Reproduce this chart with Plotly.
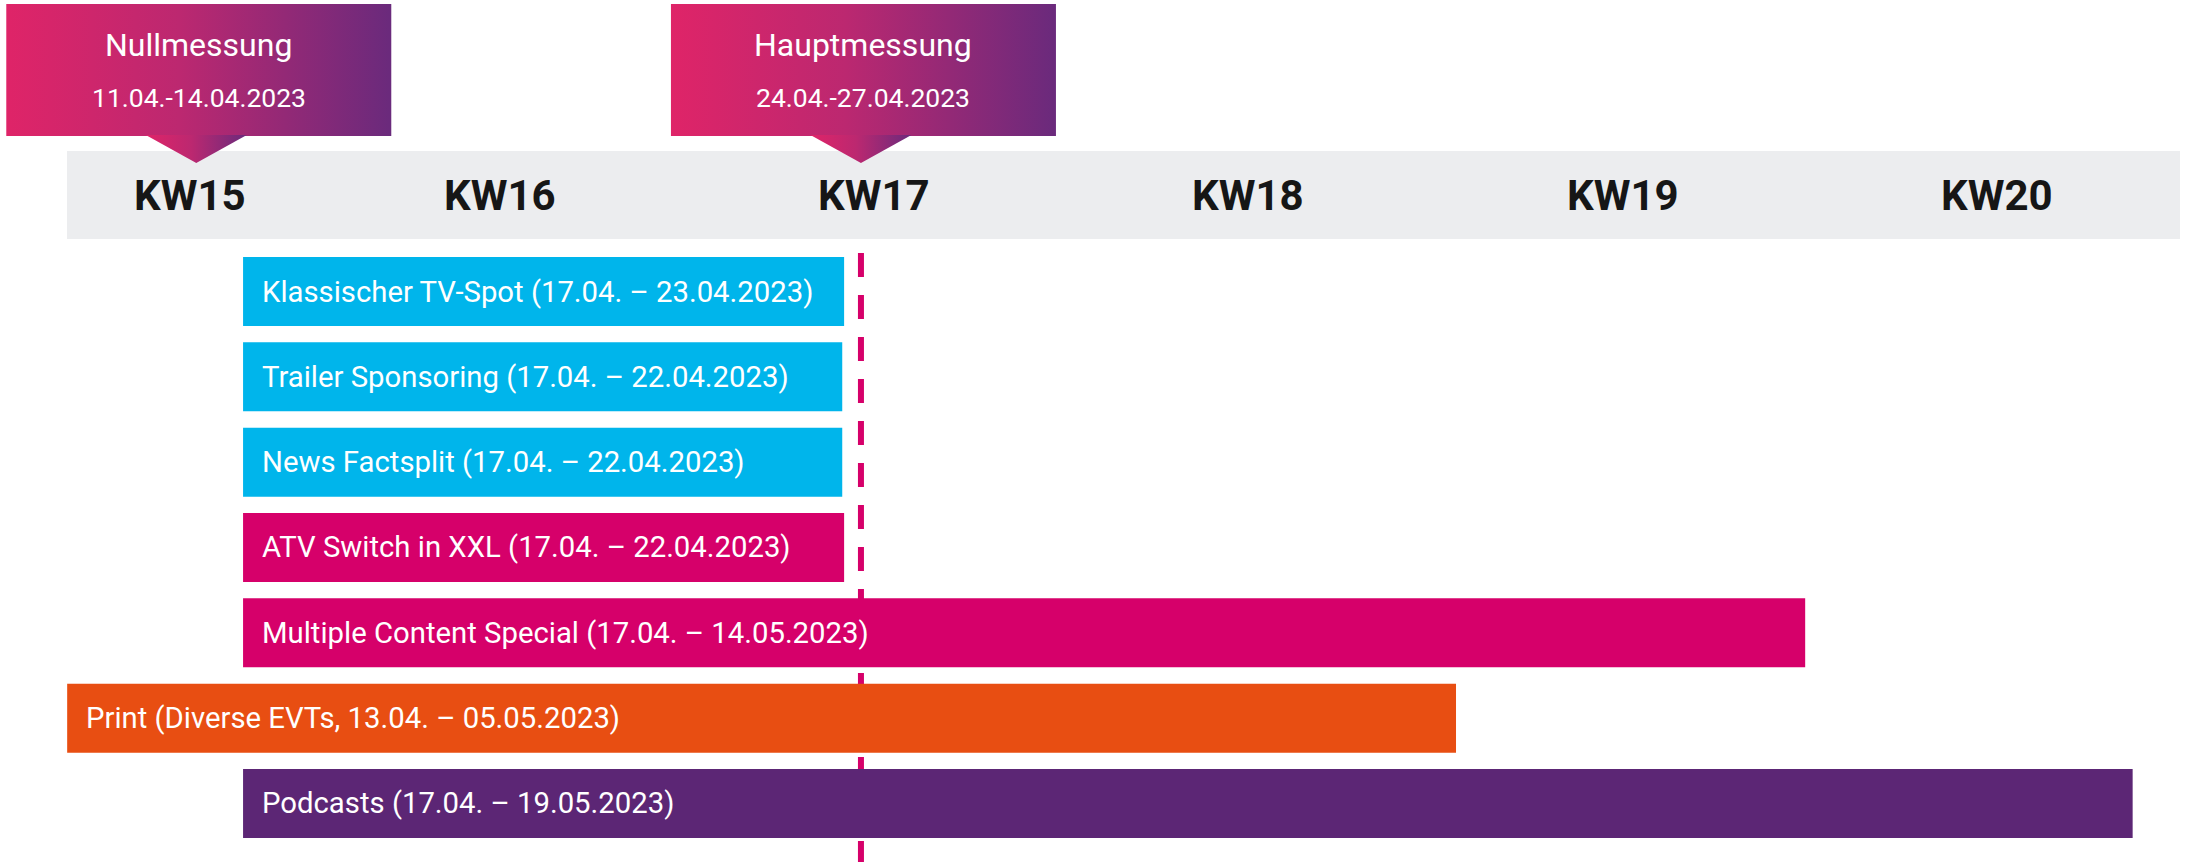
import plotly.graph_objects as go

# ---------------- data ----------------
activities = [
    "Klassischer TV-Spot (17.04. – 23.04.2023)",
    "Trailer Sponsoring (17.04. – 22.04.2023)",
    "News Factsplit (17.04. – 22.04.2023)",
    "ATV Switch in XXL (17.04. – 22.04.2023)",
    "Multiple Content Special (17.04. – 14.05.2023)",
    "Print (Diverse EVTs, 13.04. – 05.05.2023)",
    "Podcasts (17.04. – 19.05.2023)",
]
# schematic positions on the calendar-week axis (week units)
start_wk = [15.314, 15.314, 15.314, 15.314, 15.314, 14.844, 15.314]
end_wk = [16.920, 16.915, 16.915, 16.920, 19.488, 18.555, 20.363]
bar_colors = ["#00B5EB", "#00B5EB", "#00B5EB", "#D6006A", "#D6006A", "#E84E12", "#5C2675"]

week_labels = ["KW15", "KW16", "KW17", "KW18", "KW19", "KW20"]
week_pos = [15.172, 16.0, 17.0, 18.0, 19.0, 20.0]

meas_names = ["Nullmessung", "Hauptmessung"]
meas_dates = ["11.04.-14.04.2023", "24.04.-27.04.2023"]
meas_pos = [15.189, 16.965]

# ---------------- layout constants ----------------
W, H = 2186, 862
PX_PER_WK = 374.25
REF_PX = 1248.3  # pixel of week 18


def wk(px):
    return 18 + (px - REF_PX) / PX_PER_WK


ROW_PX = 85.33
ROW0_PX = 291.5
BAR_H = 69

x_range = [wk(0), wk(W)]
y_range = [(H - ROW0_PX) / ROW_PX, -ROW0_PX / ROW_PX]

FONT = "Roboto"
rows = list(range(len(activities)))

fig = go.Figure()

# bars
fig.add_trace(go.Bar(
    y=rows,
    x=[e - s for s, e in zip(start_wk, end_wk)],
    base=start_wk,
    orientation="h",
    width=BAR_H / ROW_PX,
    marker=dict(color=bar_colors, line=dict(width=0)),
    hoverinfo="skip",
    showlegend=False,
))

# callouts (gradient boxes with pointer)
grad = dict(type="horizontal",
            colorscale=[[0, "#DF2468"], [0.45, "#BC2870"], [1, "#6A2A7C"]])
for name, date, pos in zip(meas_names, meas_dates, meas_pos):
    x0 = pos - 190 / PX_PER_WK
    x1 = pos + 195 / PX_PER_WK
    fig.add_trace(go.Scatter(
        x=[x0, x1, x1, x0, x0], y=[4, 4, 136, 136, 4],
        yaxis="y2", mode="lines", fill="toself", line=dict(width=0),
        fillgradient=grad, hoverinfo="skip", showlegend=False,
    ))
    hw = 50.5 / PX_PER_WK
    fig.add_trace(go.Scatter(
        x=[pos - hw, pos + hw, pos, pos - hw], y=[135, 135, 163, 135],
        yaxis="y2", mode="lines", fill="toself", line=dict(width=0),
        fillgradient=grad, hoverinfo="skip", showlegend=False,
    ))
    cx = (x0 + x1) / 2
    fig.add_annotation(x=cx, y=45, xref="x", yref="y2", text=name,
                       showarrow=False, xanchor="center", yanchor="middle",
                       font=dict(family=FONT, size=32, color="white"))
    fig.add_annotation(x=cx, y=97, xref="x", yref="y2", text=date,
                       showarrow=False, xanchor="center", yanchor="middle",
                       font=dict(family=FONT, size=26.5, color="white"))

# header band
fig.add_shape(type="rect", xref="x", yref="y2", x0=wk(67), x1=wk(2180),
              y0=151, y1=239, fillcolor="#ECEDEF", line=dict(width=0),
              layer="below")

# dashed line at Hauptmessung
fig.add_shape(type="line", xref="x", yref="y2", x0=meas_pos[1], x1=meas_pos[1],
              y0=253, y1=H, line=dict(color="#D6006A", width=6, dash="24px,18px"),
              layer="below")

# week labels
for lab, p in zip(week_labels, week_pos):
    fig.add_annotation(x=p, y=195, xref="x", yref="y2", text=f"<b>{lab}</b>",
                       showarrow=False, xanchor="center", yanchor="middle",
                       font=dict(family=FONT, size=42, color="#161616"))

# bar labels
for r, lab, s in zip(rows, activities, start_wk):
    fig.add_annotation(x=s, y=r, xref="x", yref="y", text=lab, xshift=17,
                       showarrow=False, xanchor="left", yanchor="middle",
                       font=dict(family=FONT, size=29.3, color="white"))

fig.update_layout(
    width=W, height=H,
    margin=dict(l=0, r=0, t=0, b=0, pad=0),
    paper_bgcolor="white", plot_bgcolor="white",
    xaxis=dict(range=x_range, visible=False, fixedrange=True),
    yaxis=dict(range=y_range, visible=False, fixedrange=True),
    yaxis2=dict(range=[H, 0], overlaying="y", visible=False, fixedrange=True),
    showlegend=False,
    hovermode=False,
)

fig.write_html("out.html", config={"displayModeBar": False},
               post_script="document.body.style.margin='0';document.body.style.overflow='hidden';")
